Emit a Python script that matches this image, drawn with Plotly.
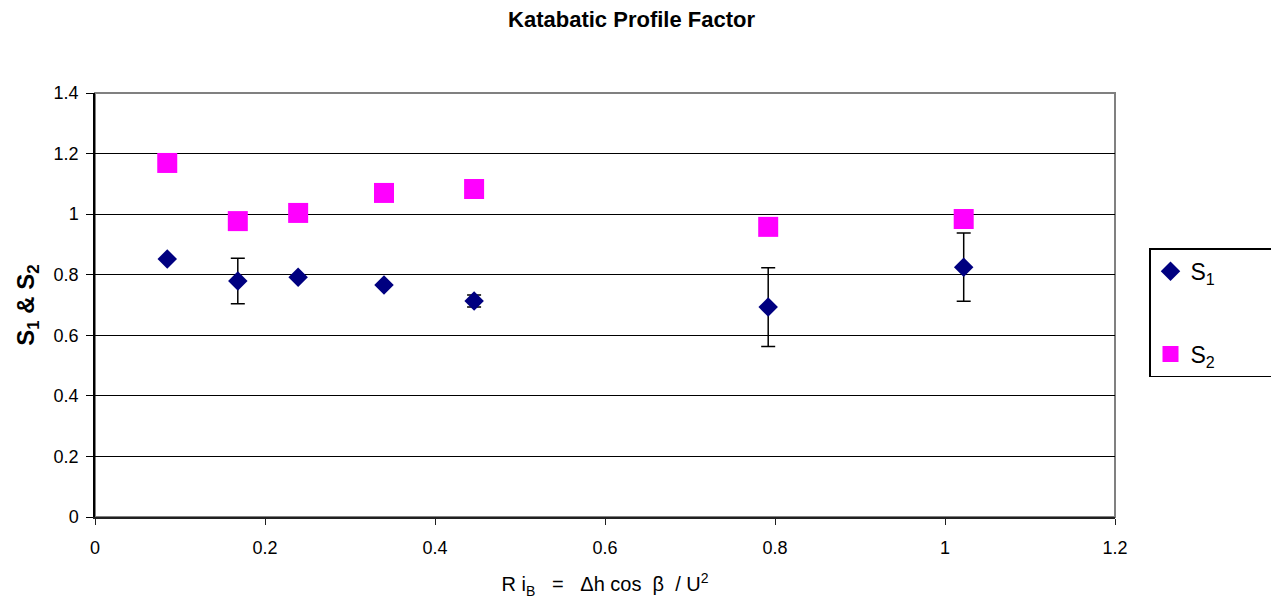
import plotly.graph_objects as go

# Data
ri_b = [0.085, 0.168, 0.239, 0.340, 0.446, 0.792, 1.022]
s1 = [0.852, 0.779, 0.792, 0.766, 0.713, 0.693, 0.825]
s1_err = [0.0, 0.075, 0.0, 0.0, 0.02, 0.13, 0.113]
s2 = [1.169, 0.977, 1.004, 1.070, 1.083, 0.958, 0.984]

x_ticks = [0, 0.2, 0.4, 0.6, 0.8, 1, 1.2]
x_labels = ["0", "0.2", "0.4", "0.6", "0.8", "1", "1.2"]
y_ticks = [0, 0.2, 0.4, 0.6, 0.8, 1, 1.2, 1.4]
y_labels = ["0", "0.2", "0.4", "0.6", "0.8", "1", "1.2", "1.4"]

FONT = "Liberation Sans, Arial, sans-serif"
NB = "\u00a0"

fig = go.Figure()
fig.add_trace(go.Scatter(
    x=ri_b, y=s1, mode="markers", name="S<sub>1</sub>" + NB * 10, legendgroup="a",
    marker=dict(symbol="diamond", size=15, color="#000080"),
    error_y=dict(type="data", array=s1_err, visible=True, color="black",
                 thickness=1.5, width=7),
))
fig.add_trace(go.Scatter(
    x=ri_b, y=s2, mode="markers", name="S<sub>2</sub>" + NB * 10, legendgroup="b",
    marker=dict(symbol="square", size=20, color="#FF00FF"),
))

# plot frame (gray top/right border)
fig.add_shape(type="rect", xref="paper", yref="paper", x0=0, x1=1, y0=0, y1=1,
              line=dict(color="#808080", width=2), layer="below")

xtitle = ("R" + NB + "i<sub>B</sub>" + NB * 3 + "=" + NB * 3 + "\u0394h" + NB + "cos"
          + NB * 2 + "\u03b2" + NB * 2 + "/" + NB + "U<sup>2</sup>")

fig.update_layout(
    width=1271, height=596,
    margin=dict(l=87, r=164, t=85, b=87, autoexpand=False),
    paper_bgcolor="white", plot_bgcolor="white",
    font=dict(family=FONT, color="black"),
    title=dict(text="<b>Katabatic Profile Factor</b>", x=0.4906, xanchor="center",
               xref="container",
               y=1 - 4 / 596, yanchor="top", yref="container",
               font=dict(size=22, family=FONT)),
    xaxis=dict(range=[0, 1.2], tickvals=x_ticks, ticktext=x_labels,
               showgrid=False, zeroline=False, showline=True,
               linecolor="#202020", linewidth=1.5,
               ticks="outside", ticklen=6, tickcolor="#202020",
               ticklabelstandoff=8,
               tickfont=dict(size=18),
               title=dict(text=xtitle, font=dict(size=20), standoff=20)),
    yaxis=dict(range=[0, 1.4], tickvals=y_ticks, ticktext=y_labels,
               showgrid=True, gridcolor="black", gridwidth=1,
               zeroline=False, showline=True, linecolor="black", linewidth=1.5,
               ticks="outside", ticklen=7, tickcolor="black",
               ticklabelstandoff=4,
               tickfont=dict(size=18),
               title=dict(text="<b>S<sub>1</sub> & S<sub>2</sub></b>",
                          font=dict(size=24), standoff=12)),
    legend=dict(x=(1149 - 95) / 1020, y=0.634, xanchor="left", yanchor="top",
                bordercolor="black", borderwidth=1.5, bgcolor="white",
                font=dict(size=23), tracegroupgap=50,
                itemsizing="trace"),
    showlegend=True,
)

fig.write_html("out.html")
